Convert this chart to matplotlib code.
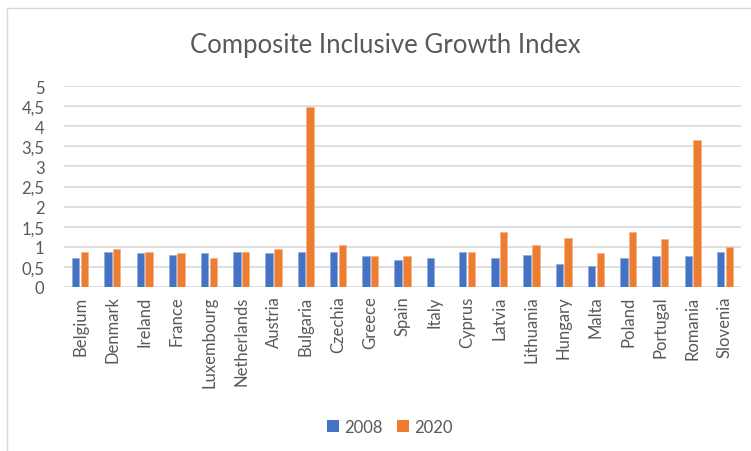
import matplotlib

matplotlib.use("Agg")
import matplotlib.pyplot as plt
import numpy as np
from matplotlib.patches import Patch, Rectangle

countries = ["Belgium", "Denmark", "Ireland", "France", "Luxembourg", "Netherlands",
             "Austria", "Bulgaria", "Czechia", "Greece", "Spain", "Italy", "Cyprus",
             "Latvia", "Lithuania", "Hungary", "Malta", "Poland", "Portugal",
             "Romania", "Slovenia"]
vals_2008 = [0.73, 0.88, 0.84, 0.79, 0.84, 0.88, 0.84, 0.87, 0.87, 0.76, 0.66,
             0.71, 0.88, 0.73, 0.79, 0.58, 0.51, 0.71, 0.76, 0.76, 0.87]
vals_2020 = [0.88, 0.94, 0.87, 0.84, 0.72, 0.88, 0.94, 4.48, 1.04, 0.78, 0.76,
             0.0, 0.87, 1.36, 1.04, 1.21, 0.84, 1.36, 1.19, 3.66, 0.99]
y_ticks = [0, 0.5, 1, 1.5, 2, 2.5, 3, 3.5, 4, 4.5, 5]
y_labels = ["0", "0,5", "1", "1,5", "2", "2,5", "3", "3,5", "4", "4,5", "5"]

BLUE = "#4472C4"
ORANGE = "#ED7D31"
TXT = "#595959"

plt.rcParams["font.family"] = ["Lato", "DejaVu Sans"]

fig = plt.figure(figsize=(7.51, 4.52), dpi=100)
fig.patches.append(Rectangle((7 / 751, -0.1), 1.2, 1 - 9 / 452 + 0.1, transform=fig.transFigure,
                             fill=False, edgecolor="#D9D9D9", linewidth=1.0))
ax = fig.add_axes([64 / 751, 1 - 288 / 452, 677 / 751, 201 / 452])

x = np.arange(len(countries))
w = 0.23
ax.bar(x - 0.135, vals_2008, width=w, color=BLUE, edgecolor="#8FAADC", linewidth=0.5, zorder=3)
ax.bar(x + 0.135, vals_2020, width=w, color=ORANGE, edgecolor="#F4B183", linewidth=0.5, zorder=3)

ax.set_xlim(-0.5, len(countries) - 0.5)
ax.set_ylim(0, 5)
ax.set_yticks(y_ticks)
ax.set_yticklabels(y_labels, fontsize=12, color=TXT)
ax.set_xticks(x)
ax.set_xticklabels(countries, rotation=90, fontsize=12, color=TXT, va="top", ha="center")
ax.tick_params(length=0, pad=6)
ax.tick_params(axis="y", pad=14)
ax.grid(axis="y", color="#D9D9D9", linewidth=1.2, zorder=0)
for s in ax.spines.values():
    s.set_visible(False)

fig.text(0.513, 1 - 45 / 452, "Composite Inclusive Growth Index", ha="center", va="center",
         fontsize=18.5, color=TXT)
fig.legend(handles=[Patch(facecolor=BLUE, label="2008"), Patch(facecolor=ORANGE, label="2020")],
           loc="center", bbox_to_anchor=(0.519, 1 - 428 / 452), ncol=2, frameon=False,
           fontsize=12, labelcolor=TXT, handlelength=0.7, handleheight=0.7, handletextpad=0.3,
           columnspacing=0.9)

fig.savefig("out.png", dpi=100)
